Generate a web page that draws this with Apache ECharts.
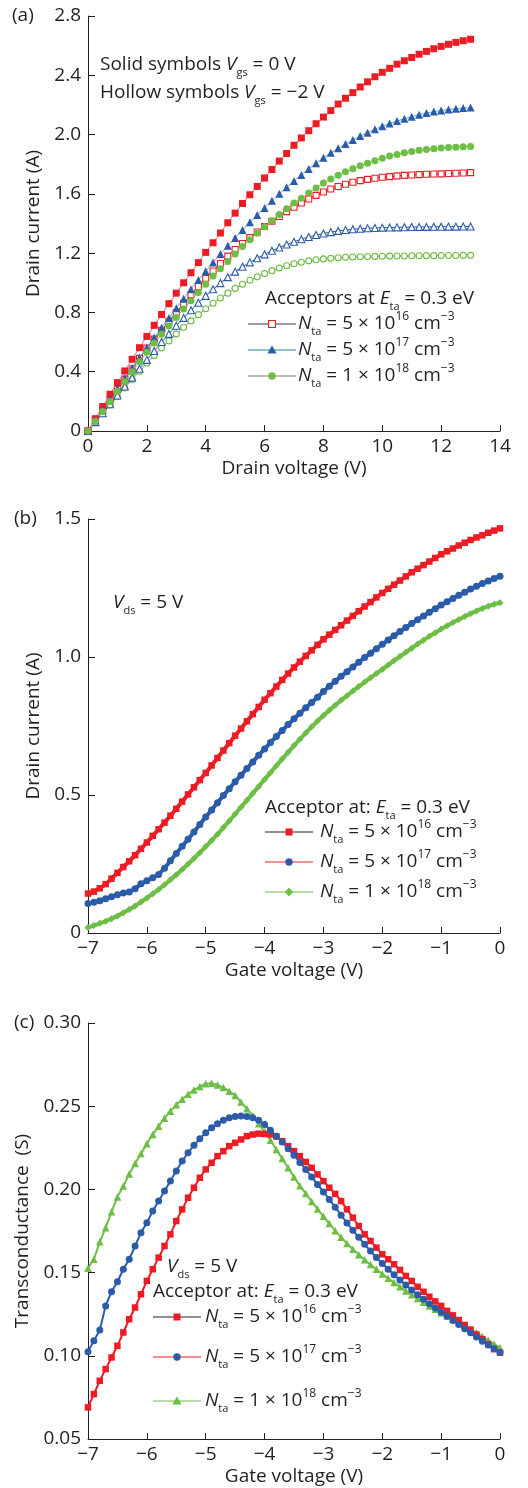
<!DOCTYPE html>
<html><head><meta charset="utf-8">
<script src="https://cdn.jsdelivr.net/npm/echarts@6/dist/echarts.min.js"></script>
<style>html,body{margin:0;padding:0;background:#fff}#c{width:528px;height:1488px}</style>
</head><body><div id="c"></div>
<script>
// ---------- Panel (a): drain current vs drain voltage ----------
const vdsA = [0,0.25,0.5,0.75,1,1.25,1.5,1.75,2,2.25,2.5,2.75,3,3.25,3.5,3.75,4,4.25,4.5,4.75,5,5.25,5.5,5.75,6,6.25,6.5,6.75,7,7.25,7.5,7.75,8,8.25,8.5,8.75,9,9.25,9.5,9.75,10,10.25,10.5,10.75,11,11.25,11.5,11.75,12,12.25,12.5,12.75,13];
const idRedSolid = [0,0.083,0.165,0.248,0.326,0.405,0.484,0.562,0.638,0.713,0.786,0.859,0.93,1.0,1.068,1.136,1.205,1.27,1.336,1.405,1.47,1.535,1.594,1.65,1.707,1.764,1.821,1.872,1.928,1.977,2.026,2.073,2.118,2.162,2.206,2.245,2.283,2.321,2.356,2.39,2.42,2.447,2.475,2.498,2.52,2.542,2.561,2.579,2.595,2.609,2.622,2.633,2.643];
const idBlueSolid = [0,0.072,0.144,0.216,0.287,0.357,0.427,0.496,0.564,0.631,0.697,0.763,0.828,0.893,0.957,1.018,1.077,1.137,1.195,1.25,1.303,1.356,1.408,1.457,1.505,1.553,1.6,1.644,1.687,1.728,1.768,1.806,1.843,1.877,1.907,1.937,1.963,1.99,2.013,2.036,2.056,2.075,2.092,2.107,2.121,2.134,2.145,2.155,2.162,2.169,2.175,2.179,2.182];
const idGreenSolid = [0,0.066,0.131,0.198,0.266,0.333,0.4,0.467,0.532,0.594,0.652,0.709,0.766,0.823,0.879,0.934,0.99,1.045,1.095,1.143,1.194,1.244,1.29,1.335,1.378,1.419,1.46,1.5,1.538,1.571,1.606,1.64,1.673,1.7,1.726,1.75,1.77,1.789,1.807,1.824,1.84,1.855,1.866,1.877,1.886,1.895,1.9,1.905,1.909,1.913,1.915,1.918,1.92];
const idRedHollow = [0,0.07,0.14,0.21,0.28,0.35,0.42,0.49,0.56,0.62,0.68,0.74,0.80,0.86,0.92,0.975,1.03,1.08,1.13,1.18,1.225,1.265,1.305,1.343,1.38,1.415,1.447,1.48,1.51,1.538,1.565,1.59,1.613,1.633,1.65,1.665,1.678,1.689,1.698,1.705,1.712,1.716,1.721,1.725,1.727,1.73,1.732,1.734,1.735,1.737,1.739,1.741,1.743];
const idBlueHollow = [0,0.06,0.12,0.18,0.24,0.30,0.36,0.42,0.48,0.54,0.60,0.655,0.71,0.763,0.815,0.865,0.912,0.956,0.998,1.038,1.075,1.108,1.138,1.166,1.192,1.216,1.238,1.258,1.277,1.294,1.309,1.322,1.333,1.342,1.35,1.356,1.361,1.365,1.368,1.37,1.372,1.373,1.374,1.375,1.376,1.377,1.377,1.378,1.378,1.379,1.379,1.38,1.38];
const idGreenHollow = [0,0.058,0.117,0.175,0.233,0.29,0.347,0.402,0.457,0.51,0.56,0.608,0.655,0.70,0.743,0.785,0.825,0.862,0.897,0.93,0.962,0.99,1.017,1.04,1.062,1.082,1.10,1.115,1.128,1.139,1.148,1.155,1.161,1.165,1.169,1.172,1.174,1.176,1.177,1.178,1.179,1.18,1.181,1.181,1.182,1.182,1.183,1.183,1.184,1.184,1.184,1.185,1.185];

// ---------- Panels (b) and (c): gate voltage sweep ----------
const vgs = [-7,-6.9,-6.8,-6.7,-6.6,-6.5,-6.4,-6.3,-6.2,-6.1,-6,-5.9,-5.8,-5.7,-5.6,-5.5,-5.4,-5.3,-5.2,-5.1,-5,-4.9,-4.8,-4.7,-4.6,-4.5,-4.4,-4.3,-4.2,-4.1,-4,-3.9,-3.8,-3.7,-3.6,-3.5,-3.4,-3.3,-3.2,-3.1,-3,-2.9,-2.8,-2.7,-2.6,-2.5,-2.4,-2.3,-2.2,-2.1,-2,-1.9,-1.8,-1.7,-1.6,-1.5,-1.4,-1.3,-1.2,-1.1,-1,-0.9,-0.8,-0.7,-0.6,-0.5,-0.4,-0.3,-0.2,-0.1,0];
const idB16 = [0.143,0.150,0.162,0.177,0.197,0.218,0.239,0.260,0.282,0.305,0.328,0.352,0.376,0.400,0.425,0.450,0.476,0.502,0.528,0.554,0.580,0.607,0.634,0.661,0.688,0.715,0.741,0.767,0.793,0.819,0.845,0.869,0.893,0.917,0.940,0.962,0.983,1.004,1.024,1.044,1.064,1.081,1.098,1.115,1.132,1.149,1.166,1.183,1.199,1.216,1.232,1.247,1.262,1.277,1.292,1.307,1.320,1.333,1.346,1.359,1.372,1.383,1.393,1.404,1.414,1.424,1.433,1.441,1.450,1.458,1.466];
const idB17 = [0.107,0.111,0.117,0.124,0.131,0.139,0.145,0.149,0.160,0.178,0.189,0.200,0.212,0.235,0.262,0.288,0.314,0.340,0.366,0.393,0.420,0.446,0.472,0.498,0.523,0.548,0.572,0.596,0.620,0.644,0.667,0.690,0.712,0.734,0.755,0.776,0.796,0.816,0.835,0.854,0.875,0.894,0.912,0.930,0.947,0.964,0.981,0.998,1.014,1.030,1.046,1.062,1.077,1.092,1.107,1.121,1.135,1.149,1.162,1.175,1.188,1.200,1.212,1.224,1.235,1.246,1.256,1.266,1.275,1.284,1.293];
const idB18 = [0.020,0.027,0.035,0.043,0.052,0.062,0.073,0.085,0.098,0.112,0.127,0.142,0.158,0.175,0.193,0.211,0.230,0.250,0.270,0.291,0.313,0.335,0.358,0.382,0.406,0.431,0.456,0.481,0.506,0.531,0.556,0.581,0.606,0.631,0.655,0.679,0.702,0.725,0.747,0.768,0.788,0.807,0.825,0.843,0.860,0.877,0.893,0.909,0.925,0.940,0.955,0.971,0.987,1.002,1.017,1.032,1.047,1.061,1.075,1.088,1.101,1.113,1.125,1.136,1.147,1.157,1.167,1.176,1.184,1.191,1.197];
const gmC16 = [0.069,0.077,0.085,0.092,0.099,0.106,0.114,0.122,0.129,0.137,0.145,0.152,0.159,0.166,0.173,0.181,0.188,0.195,0.201,0.207,0.212,0.216,0.220,0.223,0.226,0.228,0.230,0.232,0.233,0.2335,0.2333,0.233,0.2318,0.229,0.226,0.223,0.220,0.2165,0.213,0.209,0.205,0.201,0.1973,0.193,0.188,0.183,0.178,0.173,0.169,0.165,0.161,0.158,0.155,0.1516,0.148,0.145,0.1415,0.1385,0.1355,0.1327,0.130,0.127,0.1243,0.1215,0.1185,0.1157,0.1128,0.110,0.107,0.104,0.1019];
const gmC17 = [0.1025,0.109,0.1155,0.130,0.1385,0.1445,0.152,0.158,0.166,0.174,0.180,0.187,0.193,0.199,0.205,0.211,0.217,0.222,0.2265,0.2305,0.234,0.237,0.2395,0.2415,0.243,0.2438,0.2441,0.2438,0.243,0.2415,0.239,0.2355,0.232,0.2285,0.2245,0.2205,0.2162,0.212,0.2075,0.203,0.1985,0.194,0.1893,0.1845,0.1798,0.1755,0.1712,0.167,0.163,0.159,0.1555,0.152,0.1487,0.1455,0.1425,0.1395,0.1367,0.134,0.1313,0.1287,0.1262,0.1237,0.1212,0.1188,0.1163,0.1138,0.1113,0.1088,0.1065,0.1042,0.102];
const gmC18 = [0.1526,0.158,0.1685,0.177,0.1865,0.1955,0.202,0.2092,0.2155,0.2215,0.2275,0.233,0.238,0.2428,0.247,0.2508,0.2542,0.2572,0.2598,0.2618,0.2635,0.2638,0.2628,0.2612,0.259,0.2565,0.2525,0.2485,0.2442,0.2395,0.2348,0.2295,0.224,0.2185,0.213,0.2075,0.2022,0.1975,0.1928,0.1882,0.1838,0.1795,0.1752,0.1712,0.1675,0.164,0.1608,0.1577,0.1548,0.152,0.1492,0.1466,0.144,0.1415,0.139,0.1367,0.1344,0.1322,0.13,0.1279,0.1259,0.1239,0.1219,0.12,0.1181,0.1162,0.1139,0.1116,0.1093,0.107,0.1049];

// ---------- tick labels ----------
const xTicksA = ['0','2','4','6','8','10','12','14'];
const yTicksA = ['0','0.4','0.8','1.2','1.6','2.0','2.4','2.8'];
const xTicksG = ['\u22127','\u22126','\u22125','\u22124','\u22123','\u22122','\u22121','0'];
const yTicksB = ['0','0.5','1.0','1.5'];
const yTicksC = ['0.05','0.10','0.15','0.20','0.25','0.30'];
const legendExp = [['5','16'],['5','17'],['1','18']];

const FONT = 'Open Sans';
const TXT = '#231f20';
const RED = '#ed1c24', BLUE = '#2b5caa', GREEN = '#6dbe45';

function pairs(xs, ys){ return xs.map((x,i)=>[x, ys[i]]); }
function tickFmt(labels, min, step){ return v => { const k = Math.round((v-min)/step); return labels[k] !== undefined ? labels[k] : ''; }; }

function xAx(gi, min, max, step, labels, name){
  return {type:'value', gridIndex:gi, min:min, max:max, interval:step,
    name:name, nameLocation:'middle', nameGap:28,
    nameTextStyle:{fontFamily:FONT, fontSize:19, color:TXT},
    axisLine:{show:true, onZero:false, lineStyle:{color:TXT, width:1}},
    axisTick:{show:true, inside:true, length:6, lineStyle:{color:TXT, width:1}},
    axisLabel:{fontFamily:FONT, fontSize:19, color:TXT, margin:6, formatter:tickFmt(labels,min,step)},
    splitLine:{show:false}};
}
function yAx(gi, min, max, step, labels, name, gap){
  return {type:'value', gridIndex:gi, min:min, max:max, interval:step,
    name:name, nameLocation:'middle', nameGap:gap,
    nameTextStyle:{fontFamily:FONT, fontSize:19, color:TXT},
    axisLine:{show:true, onZero:false, lineStyle:{color:TXT, width:1}},
    axisTick:{show:true, inside:true, length:7, lineStyle:{color:TXT, width:1}},
    axisLabel:{fontFamily:FONT, fontSize:19, color:TXT, margin:7, formatter:tickFmt(labels,min,step)},
    splitLine:{show:false}};
}
function ser(gi, xs, ys, symbol, size, color, lineColor, lineW, hollow, z){
  return {type:'line', xAxisIndex:gi, yAxisIndex:gi, data:pairs(xs,ys),
    symbol:symbol, symbolSize:size, showSymbol:true, showAllSymbol:true,
    lineStyle:{color:lineColor, width:lineW},
    itemStyle: hollow ? {color:'#ffffff', borderColor:color, borderWidth:1.1} : {color:color, borderWidth:0},
    emphasis:{disabled:true}, silent:true, z:z};
}

// ---------- rich text helpers ----------
const R = {
  n:{fontFamily:FONT, fontSize:19, fill:TXT, lineHeight:26},
  i:{fontFamily:FONT, fontSize:19, fontStyle:'italic', fill:TXT, lineHeight:26},
  sub:{fontFamily:FONT, fontSize:11, fill:TXT, lineHeight:16, verticalAlign:'bottom'},
  sup:{fontFamily:FONT, fontSize:12, fill:TXT, lineHeight:19, verticalAlign:'top'}
};
function txt(x, y, s){
  return {type:'text', x:x, y:y, z:100, silent:true,
    style:{text:s, rich:R, fontFamily:FONT, fontSize:19, fill:TXT, textAlign:'left', textVerticalAlign:'middle'}};
}
function nta(m, e){ return '{i|N}{sub|ta}{n| = ' + m + ' \u00d7 10}{sup|' + e + '}{n| cm}{sup|\u22123}'; }
function sym(kind, cx, cy, color, hollow){
  const st = hollow ? {fill:'#fff', stroke:color, lineWidth:1.1} : {fill:color};
  let el;
  if (kind==='rect') el = {type:'rect', shape:{x:cx-3.5, y:cy-3.5, width:7, height:7}, style:st};
  else if (kind==='circle') el = {type:'circle', shape:{cx:cx, cy:cy, r:3.7}, style:st};
  else if (kind==='triangle') el = {type:'polygon', shape:{points:[[cx,cy-4.6],[cx+4.6,cy+3.6],[cx-4.6,cy+3.6]]}, style:st};
  else el = {type:'polygon', shape:{points:[[cx,cy-4.6],[cx+4.2,cy],[cx,cy+4.6],[cx-4.2,cy]]}, style:st};
  el.z = 101; el.silent = true;
  return el;
}
function legRow(x1, x2, y, lineColor, kind, color, hollow, tx, s){
  return [
    {type:'line', z:100, silent:true, shape:{x1:x1, y1:y, x2:x2, y2:y}, style:{stroke:lineColor, lineWidth:1.2}},
    sym(kind, (x1+x2)/2, y, color, hollow),
    txt(tx, y, s)
  ];
}

const elements = [].concat(
  [txt(12, 16, '{n|(a)}'), txt(14, 519, '{n|(b)}'), txt(14, 1023, '{n|(c)}')],
  [txt(100, 65, '{n|Solid symbols }{i|V}{sub|gs}{n| = 0 V}'),
   txt(100, 93, '{n|Hollow symbols }{i|V}{sub|gs}{n| = \u22122 V}'),
   txt(265, 299, '{n|Acceptors at }{i|E}{sub|ta}{n| = 0.3 eV}')],
  legRow(248, 296, 324, '#3a3a3a', 'rect', RED, true, 298, nta(legendExp[0][0], legendExp[0][1])),
  legRow(248, 296, 350, '#1f8a8f', 'triangle', BLUE, false, 298, nta(legendExp[1][0], legendExp[1][1])),
  legRow(248, 296, 376, '#8c7a45', 'circle', GREEN, false, 298, nta(legendExp[2][0], legendExp[2][1])),
  [txt(113, 603, '{i|V}{sub|ds}{n| = 5 V}'),
   txt(265, 808, '{n|Acceptor at: }{i|E}{sub|ta}{n| = 0.3 eV}')],
  legRow(265, 313, 832, '#231f20', 'rect', RED, false, 320, nta(legendExp[0][0], legendExp[0][1])),
  legRow(265, 313, 862, RED, 'circle', BLUE, false, 320, nta(legendExp[1][0], legendExp[1][1])),
  legRow(265, 313, 892, GREEN, 'diamond', GREEN, false, 320, nta(legendExp[2][0], legendExp[2][1])),
  [txt(167, 1267, '{i|V}{sub|ds}{n| = 5 V}'),
   txt(153, 1292, '{n|Acceptor at: }{i|E}{sub|ta}{n| = 0.3 eV}')],
  legRow(153, 201, 1317, '#231f20', 'rect', RED, false, 205, nta(legendExp[0][0], legendExp[0][1])),
  legRow(153, 201, 1357, RED, 'circle', BLUE, false, 205, nta(legendExp[1][0], legendExp[1][1])),
  legRow(153, 201, 1401, GREEN, 'triangle', GREEN, false, 205, nta(legendExp[2][0], legendExp[2][1]))
);

const option = {
  animation:false,
  backgroundColor:'#ffffff',
  grid:[
    {left:88, top:16, width:412, height:415, outerBoundsMode:'none', containLabel:false},
    {left:88, top:519, width:412, height:414, outerBoundsMode:'none', containLabel:false},
    {left:88, top:1023, width:412, height:416, outerBoundsMode:'none', containLabel:false}
  ],
  xAxis:[
    xAx(0, 0, 14, 2, xTicksA, 'Drain voltage (V)'),
    xAx(1, -7, 0, 1, xTicksG, 'Gate voltage (V)'),
    xAx(2, -7, 0, 1, xTicksG, 'Gate voltage (V)')
  ],
  yAxis:[
    yAx(0, 0, 2.8, 0.4, yTicksA, 'Drain current (A)', 38),
    yAx(1, 0, 1.5, 0.5, yTicksB, 'Drain current (A)', 38),
    yAx(2, 0.05, 0.30, 0.05, yTicksC, 'Transconductance  (S)', 52)
  ],
  series:[
    ser(0, vdsA, idGreenHollow, 'circle', 6, GREEN, '#a07cc0', 1, true, 2),
    ser(0, vdsA, idBlueHollow, 'triangle', 7, BLUE, BLUE, 1, true, 2),
    ser(0, vdsA, idRedHollow, 'rect', 6, RED, '#333333', 1, true, 2),
    ser(0, vdsA, idRedSolid, 'rect', 7, RED, '#f06a6e', 1, false, 3),
    ser(0, vdsA, idBlueSolid, 'triangle', 8, BLUE, '#6aa6d8', 1, false, 3),
    ser(0, vdsA, idGreenSolid, 'circle', 7, GREEN, '#7fcf5a', 1, false, 3),
    ser(1, vgs, idB16, 'rect', 6.5, RED, RED, 4, false, 3),
    ser(1, vgs, idB17, 'circle', 7, BLUE, BLUE, 4, false, 3),
    ser(1, vgs, idB18, 'diamond', 7, GREEN, GREEN, 4, false, 3),
    ser(2, vgs, gmC18, 'triangle', 7.5, GREEN, GREEN, 2, false, 3),
    ser(2, vgs, gmC16, 'rect', 6.5, RED, RED, 2, false, 3),
    ser(2, vgs, gmC17, 'circle', 7, BLUE, BLUE, 2, false, 3)
  ],
  graphic:{elements:elements}
};
const chart = echarts.init(document.getElementById('c'));
chart.setOption(option);
</script>
</body></html>
